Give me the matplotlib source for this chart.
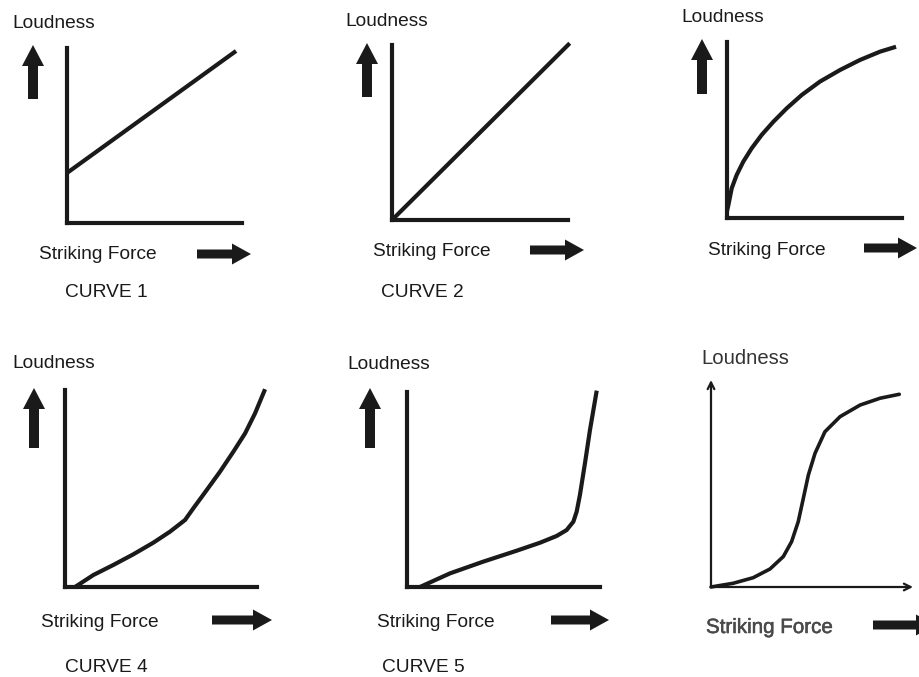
import matplotlib
matplotlib.use("Agg")
import matplotlib.pyplot as plt
import matplotlib.patheffects as pe
from matplotlib.patches import FancyArrow

plt.rcParams["font.family"] = ["Liberation Sans", "DejaVu Sans"]

W, H = 920, 677
INK = "#1a1a1a"

# Curve shapes, in units of each panel's axis length (0 = origin, 1 = axis end)
c1_x = [0.0, 0.966]
c1_y = [0.286, 0.983]

c2_x = [0.0, 1.01]
c2_y = [0.0, 1.01]

c3_x = [0.0, 0.008, 0.027, 0.055, 0.093, 0.141, 0.198, 0.265, 0.341,
        0.427, 0.531, 0.646, 0.760, 0.874, 0.966]
c3_y = [0.04, 0.074, 0.169, 0.244, 0.320, 0.396, 0.472, 0.547, 0.623,
        0.699, 0.775, 0.841, 0.898, 0.945, 0.973]

c4_x = [0.052, 0.148, 0.252, 0.356, 0.460, 0.547, 0.625, 0.668, 0.738,
        0.807, 0.877, 0.938, 0.990, 1.042]
c4_y = [0.0, 0.061, 0.112, 0.166, 0.225, 0.281, 0.340, 0.399, 0.492,
        0.585, 0.687, 0.780, 0.882, 1.004]

c5_x = [0.067, 0.223, 0.395, 0.568, 0.689, 0.776, 0.827, 0.862, 0.879,
        0.896, 0.922, 0.948, 0.983]
c5_y = [0.0, 0.070, 0.130, 0.186, 0.227, 0.262, 0.292, 0.335, 0.386,
        0.472, 0.634, 0.805, 1.007]

c6_x = [0.0, 0.110, 0.209, 0.292, 0.358, 0.399, 0.432, 0.457, 0.482,
        0.515, 0.564, 0.639, 0.738, 0.837, 0.932]
c6_y = [0.0, 0.018, 0.045, 0.087, 0.147, 0.219, 0.316, 0.428, 0.541,
        0.646, 0.750, 0.823, 0.879, 0.912, 0.931]

curve_labels = ["CURVE 1", "CURVE 2", None, "CURVE 4", "CURVE 5", None]

fig = plt.figure(figsize=(W / 100, H / 100), dpi=100)

# overlay in pixel units for labels and the big arrows
ov = fig.add_axes([0, 0, 1, 1])
ov.set_xlim(0, W)
ov.set_ylim(H, 0)
ov.axis("off")


def panel(ox, oy, xend, ytop):
    ax = fig.add_axes([ox / W, 1 - oy / H, (xend - ox) / W, (oy - ytop) / H])
    ax.set_xlim(0, 1)
    ax.set_ylim(0, 1)
    ax.set_xticks([])
    ax.set_yticks([])
    ax.patch.set_alpha(0)
    for s in ["top", "right"]:
        ax.spines[s].set_visible(False)
    return ax


def thick_axes(ax):
    for s in ["left", "bottom"]:
        ax.spines[s].set_linewidth(3.0)
        ax.spines[s].set_color(INK)
        ax.spines[s].set_capstyle("projecting")


def up_arrow(x, base, tip):
    ov.add_patch(FancyArrow(x, base, 0, tip - base, width=10, head_width=22,
                            head_length=21, length_includes_head=True,
                            color=INK, lw=0))


def right_arrow(x0, x1, y):
    ov.add_patch(FancyArrow(x0, y, x1 - x0, 0, width=9, head_width=21,
                            head_length=19, length_includes_head=True,
                            color=INK, lw=0))


specs = [
    # origin x, origin y, x-axis end, y-axis top
    (67, 223, 242, 48),
    (392, 220, 568, 45),
    (727, 218, 902, 42),
    (65, 587, 257, 390),
    (407, 587, 600, 392),
    (711, 587, 913, 380),
]
curves = [(c1_x, c1_y), (c2_x, c2_y), (c3_x, c3_y),
          (c4_x, c4_y), (c5_x, c5_y), (c6_x, c6_y)]

for i, (spec, (cx, cy)) in enumerate(zip(specs, curves)):
    ax = panel(*spec)
    if i < 5:
        thick_axes(ax)
        ax.plot(cx, cy, color=INK, lw=3.0, solid_capstyle="butt",
                solid_joinstyle="round", clip_on=False)
    else:
        ax.spines["left"].set_visible(False)
        ax.spines["bottom"].set_visible(False)
        arrow_kw = dict(arrowstyle="->", lw=1.6, color=INK,
                        shrinkA=0, shrinkB=0, mutation_scale=12)
        ax.annotate("", xy=(0, 1), xytext=(0, 0), xycoords="axes fraction",
                    arrowprops=arrow_kw, annotation_clip=False)
        ax.annotate("", xy=(1, 0), xytext=(0, 0), xycoords="axes fraction",
                    arrowprops=arrow_kw, annotation_clip=False)
        ax.plot(cx, cy, color=INK, lw=2.6, solid_capstyle="round",
                solid_joinstyle="round", clip_on=False)

fs = 13.8
# label anchors: left x, baseline y
loud_pos = [(12, 28), (345, 26), (681, 22), (12, 368), (347, 369), (701, 364)]
force_pos = [(39, 259), (373, 256), (708, 255), (41, 627), (377, 627), (706, 633)]
curve_pos = [(65, 297), (381, 297), None, (65, 672), (382, 672), None]

for i in range(6):
    if i == 5:
        ov.text(*loud_pos[i], "Loudness", fontsize=14.6, color="#333333",
                ha="left", va="baseline")
        ov.text(*force_pos[i], "Striking Force", fontsize=14.8, color="#4a4a4a",
                ha="left", va="baseline",
                path_effects=[pe.withStroke(linewidth=0.4, foreground="#4a4a4a")])
        continue
    ov.text(*loud_pos[i], "Loudness", fontsize=fs, color=INK,
            ha="left", va="baseline")
    ov.text(*force_pos[i], "Striking Force", fontsize=fs, color=INK,
            ha="left", va="baseline")
    if curve_labels[i]:
        ov.text(*curve_pos[i], curve_labels[i], fontsize=fs, color=INK,
                ha="left", va="baseline")

for x, base, tip in [(33, 99, 45), (367, 97, 43), (702, 94, 39),
                     (34, 448, 388), (370, 448, 388)]:
    up_arrow(x, base, tip)

for x0, x1, y in [(197, 251, 254), (530, 584, 250), (864, 917, 248),
                  (212, 272, 620), (551, 609, 620), (873, 935, 625)]:
    right_arrow(x0, x1, y)

fig.savefig("out.png", dpi=100)
